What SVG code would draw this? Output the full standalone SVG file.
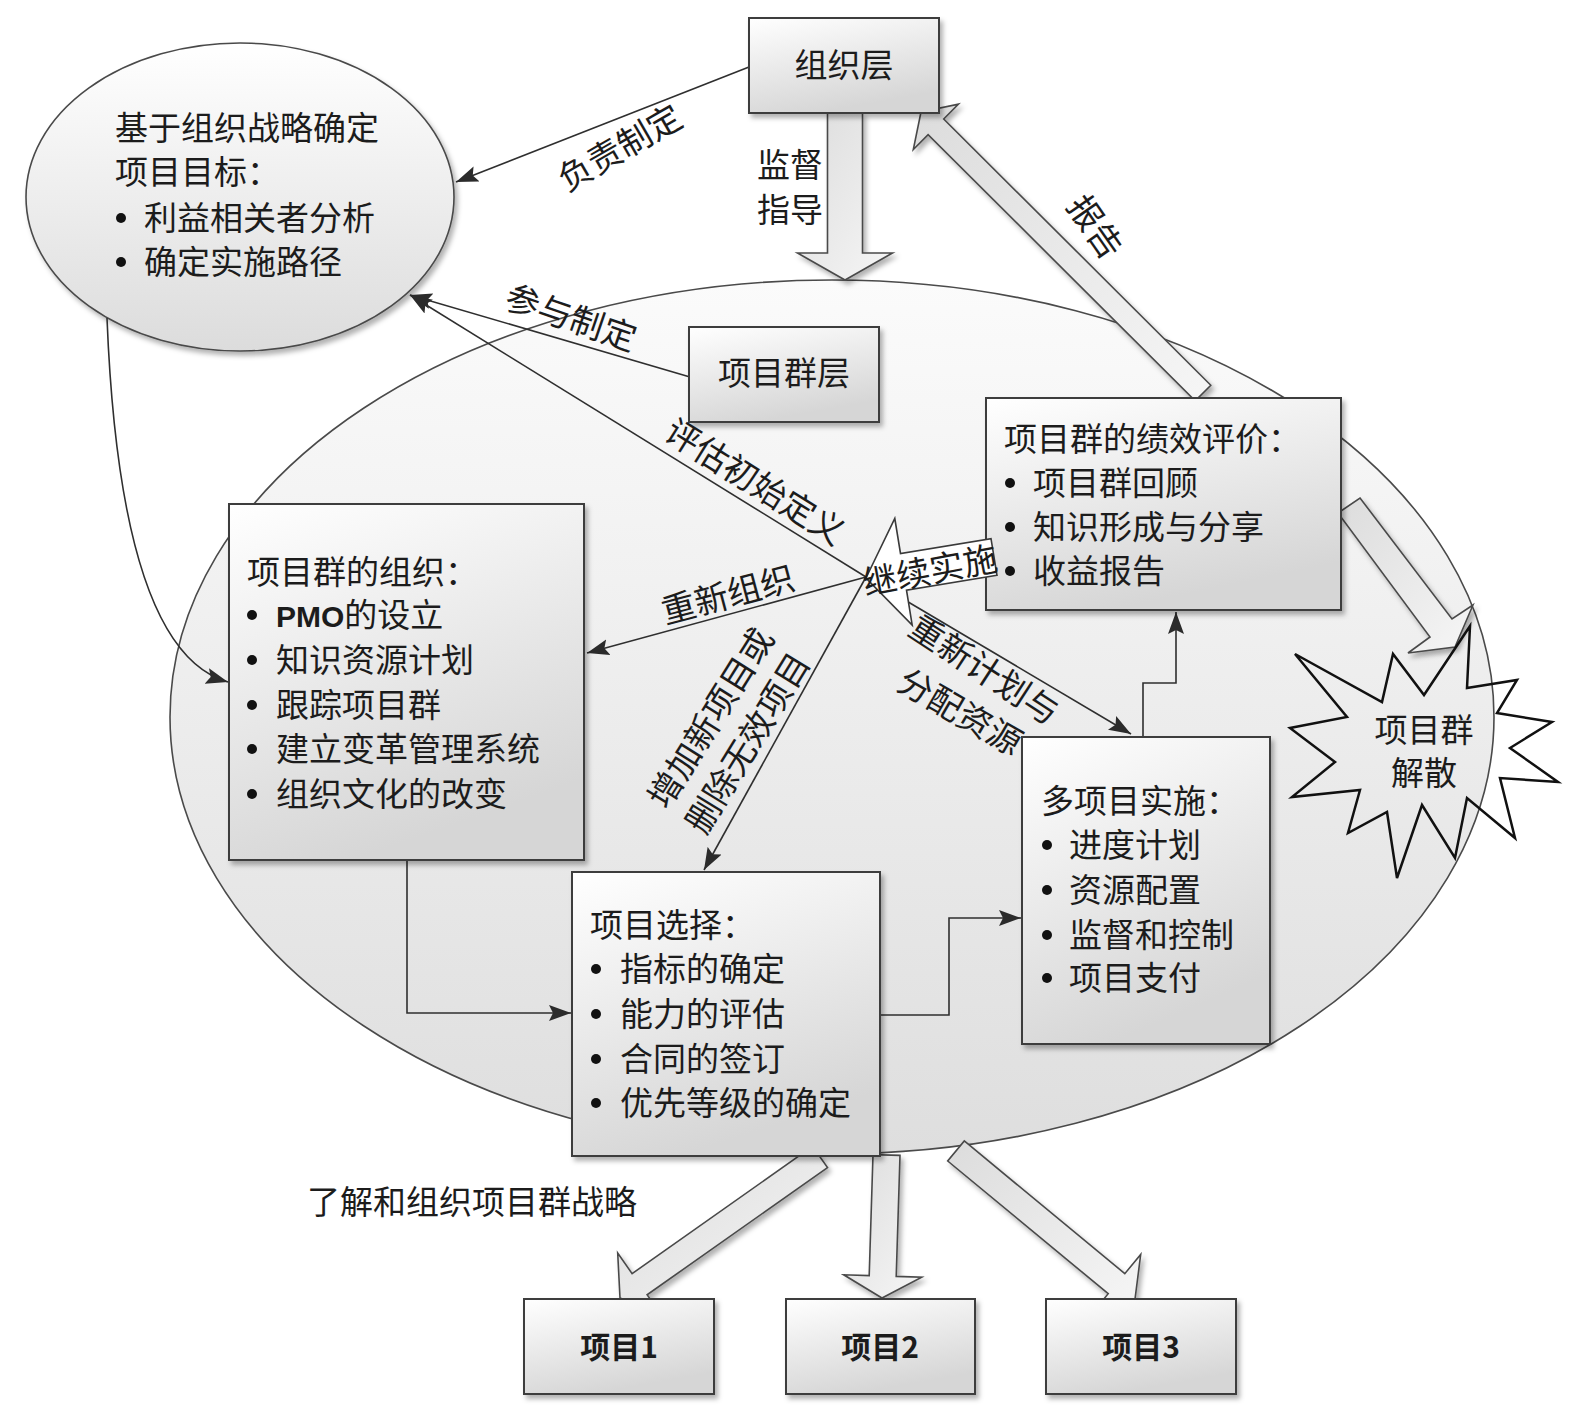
<svg xmlns="http://www.w3.org/2000/svg" width="1580" height="1408" viewBox="0 0 1580 1408">
<defs>
<linearGradient id="gBox" x1="0" y1="0" x2="0.35" y2="1">
<stop offset="0" stop-color="#ffffff"/>
<stop offset="1" stop-color="#d6d6d6"/>
</linearGradient>
<linearGradient id="gEll" x1="0" y1="0" x2="0" y2="1">
<stop offset="0" stop-color="#ffffff"/>
<stop offset="1" stop-color="#dcdcdc"/>
</linearGradient>
<linearGradient id="gBig" x1="0" y1="0" x2="0" y2="1">
<stop offset="0" stop-color="#fbfbfb"/>
<stop offset="1" stop-color="#dedede"/>
</linearGradient>
<linearGradient id="gArr" x1="0" y1="0" x2="1" y2="1">
<stop offset="0" stop-color="#dcdcdc"/>
<stop offset="1" stop-color="#f6f6f6"/>
</linearGradient>
<filter id="sh" x="-10%" y="-10%" width="130%" height="130%">
<feDropShadow dx="3" dy="4" stdDeviation="2.5" flood-color="#000" flood-opacity="0.3"/>
</filter>
<marker id="ah" markerWidth="24" markerHeight="18" refX="22" refY="9" orient="auto" markerUnits="userSpaceOnUse">
<path d="M0,1 L22,9 L0,17 L4,9 z" fill="#2b2b2b"/>
</marker>
</defs>
<style>
text{font-family:'Noto Sans CJK SC','Noto Sans',sans-serif;font-size:33px;fill:#1c1c1c}
.lbl{font-size:34px}
.box{fill:url(#gBox);stroke:#3c3c3c;stroke-width:2;filter:url(#sh)}
.ell{stroke:#4a4a4a;stroke-width:1.6}
.con{fill:none;stroke:#2f2f2f;stroke-width:1.6}
.conA{fill:none;stroke:#2f2f2f;stroke-width:1.6;marker-end:url(#ah)}
.blk{fill:url(#gArr);stroke:#4a4a4a;stroke-width:1.6;stroke-linejoin:miter;filter:url(#sh)}
.bul{fill:#111}
.bold{font-weight:bold;font-size:30px}
.pmo{font-family:'Liberation Sans',Arial,sans-serif;font-weight:bold;font-size:30px}
</style>
<rect width="1580" height="1408" fill="#ffffff"/>

<g id="program-ellipse">
<ellipse class="ell" cx="832" cy="717" rx="662" ry="437" fill="url(#gBig)"/>
</g>

<g id="goal-ellipse">
<ellipse class="ell" cx="240" cy="197" rx="214" ry="154" fill="url(#gEll)" filter="url(#sh)"/>
<text x="115" y="140">基于组织战略确定</text>
<text x="115" y="184">项目目标：</text>
<circle class="bul" cx="121" cy="218" r="5"/>
<text x="144" y="230">利益相关者分析</text>
<circle class="bul" cx="121" cy="262" r="5"/>
<text x="144" y="274">确定实施路径</text>
</g>

<g id="connectors">
<path class="conA" d="M749,67 L456,182"/>
<path class="conA" d="M690,377 L410,295"/>
<path class="conA" d="M866,577 L410,295"/>
<path class="conA" d="M866,577 L587,653"/>
<path class="conA" d="M866,577 L704,870"/>
<path class="conA" d="M866,577 L1131,734"/>
<path class="conA" d="M407,860 V1013 H571"/>
<path class="conA" d="M880,1015 H949 V918 H1021"/>
<path class="conA" d="M1143,737 V683 H1176 V612"/>
<path class="conA" d="M107,318 C115,520 150,660 228,682"/>
<polygon class="blk" points="827.5,113 827.5,253 797.5,253 845,280 892.5,253 862.5,253 862.5,113"/>
<polygon class="blk" points="1210.8,385.2 943.7,119 958.5,104.1 921,112 913.3,149.5 928.1,134.6 1195.2,400.8"/>
<polygon class="blk" points="1360,498 1452,619 1473,605 1455,647 1408,653 1430,637 1338,513"/>
<polygon class="blk" points="827.5,1167.6 647.1,1294.8 661.5,1315.3 620,1298 617.7,1253.1 632.1,1273.6 812.5,1146.4"/>
<polygon class="blk" points="900,1155.4 896.2,1276.4 921.7,1277.2 882,1298 843.7,1274.8 869.2,1275.6 873,1154.6"/>
<polygon class="blk" points="947.7,1161 1108.2,1293.7 1092.3,1313 1135,1299 1140.7,1254.4 1124.8,1273.7 964.3,1141"/>
</g>

<g id="org-layer">
<rect class="box" x="749" y="18" width="190" height="95"/>
<text x="844" y="77" text-anchor="middle">组织层</text>
</g>

<g id="program-layer">
<rect class="box" x="689" y="327" width="190" height="95"/>
<text x="784" y="385" text-anchor="middle">项目群层</text>
</g>

<g id="performance">
<rect class="box" x="986" y="398" width="355" height="212"/>
<text x="1004" y="451">项目群的绩效评价：</text>
<circle class="bul" cx="1010" cy="483" r="5"/>
<text x="1033" y="495">项目群回顾</text>
<circle class="bul" cx="1010" cy="527" r="5"/>
<text x="1033" y="539">知识形成与分享</text>
<circle class="bul" cx="1010" cy="571" r="5"/>
<text x="1033" y="583">收益报告</text>
</g>

<g id="organization">
<rect class="box" x="229" y="504" width="355" height="356"/>
<text x="247" y="584">项目群的组织：</text>
<circle class="bul" cx="252" cy="615" r="5"/>
<text x="276" y="627"><tspan class="pmo">PMO</tspan>的设立</text>
<circle class="bul" cx="252" cy="660" r="5"/>
<text x="276" y="672">知识资源计划</text>
<circle class="bul" cx="252" cy="705" r="5"/>
<text x="276" y="717">跟踪项目群</text>
<circle class="bul" cx="252" cy="749" r="5"/>
<text x="276" y="761">建立变革管理系统</text>
<circle class="bul" cx="252" cy="794" r="5"/>
<text x="276" y="806">组织文化的改变</text>
</g>

<g id="selection">
<rect class="box" x="572" y="872" width="308" height="284"/>
<text x="590" y="937">项目选择：</text>
<circle class="bul" cx="596" cy="969" r="5"/>
<text x="620" y="981">指标的确定</text>
<circle class="bul" cx="596" cy="1014" r="5"/>
<text x="620" y="1026">能力的评估</text>
<circle class="bul" cx="596" cy="1059" r="5"/>
<text x="620" y="1071">合同的签订</text>
<circle class="bul" cx="596" cy="1103" r="5"/>
<text x="620" y="1115">优先等级的确定</text>
</g>

<g id="implementation">
<rect class="box" x="1022" y="737" width="248" height="307"/>
<text x="1041" y="813">多项目实施：</text>
<circle class="bul" cx="1047" cy="845" r="5"/>
<text x="1069" y="857">进度计划</text>
<circle class="bul" cx="1047" cy="890" r="5"/>
<text x="1069" y="902">资源配置</text>
<circle class="bul" cx="1047" cy="935" r="5"/>
<text x="1069" y="947">监督和控制</text>
<circle class="bul" cx="1047" cy="978" r="5"/>
<text x="1069" y="990">项目支付</text>
</g>

<g id="continue">
<polygon points="997,575.3 906.5,590.1 912.2,625.1 866,578 894.8,518.5 900.5,553.5 991,538.7" fill="#ffffff" stroke="#3a3a3a" stroke-width="1.6" stroke-linejoin="miter"/>
<g transform="translate(930,571) rotate(-11)"><text class="lbl" x="0" y="12" text-anchor="middle">继续实施</text></g>
</g>

<g id="project1">
<rect class="box" x="524" y="1299" width="190" height="95"/>
<text class="bold" x="619" y="1358" text-anchor="middle">项目1</text>
</g>
<g id="project2">
<rect class="box" x="786" y="1299" width="189" height="95"/>
<text class="bold" x="880" y="1358" text-anchor="middle">项目2</text>
</g>
<g id="project3">
<rect class="box" x="1046" y="1299" width="190" height="95"/>
<text class="bold" x="1141" y="1358" text-anchor="middle">项目3</text>
</g>

<g id="dissolve">
<polygon points="1295,654 1382,702 1393,654 1424,695 1470,626 1467,688 1517,680 1497,713 1552,722 1510,748 1558,782 1500,778 1515,838 1467,798 1455,858 1422,805 1397,878 1387,812 1348,833 1360,790 1292,797 1335,762 1290,728 1347,717" fill="none" stroke="#111" stroke-width="2.5" stroke-linejoin="miter"/>
<text x="1424" y="742" text-anchor="middle">项目群</text>
<text x="1424" y="785" text-anchor="middle">解散</text>
</g>

<g id="labels">
<text x="757" y="177">监督</text>
<text x="757" y="222">指导</text>
<g transform="translate(620,148) rotate(-30)"><text class="lbl" x="0" y="12" text-anchor="middle">负责制定</text></g>
<g transform="translate(571,318) rotate(19)"><text class="lbl" x="0" y="12" text-anchor="middle">参与制定</text></g>
<g transform="translate(755,482) rotate(32)"><text class="lbl" x="0" y="12" text-anchor="middle">评估初始定义</text></g>
<g transform="translate(728,595) rotate(-15)"><text class="lbl" x="0" y="12" text-anchor="middle">重新组织</text></g>
<g transform="translate(711,718) rotate(-58)"><text class="lbl" x="0" y="12" text-anchor="middle">增加新项目或</text></g>
<g transform="translate(748,743) rotate(-58.5)"><text class="lbl" x="0" y="12" text-anchor="middle">删除无效项目</text></g>
<g transform="translate(984,670) rotate(33)"><text class="lbl" x="0" y="12" text-anchor="middle">重新计划与</text></g>
<g transform="translate(960,712) rotate(30)"><text class="lbl" x="0" y="12" text-anchor="middle">分配资源</text></g>
<g transform="translate(1095,227) rotate(55)"><text class="lbl" x="0" y="12" text-anchor="middle">报告</text></g>
<text x="307" y="1214">了解和组织项目群战略</text>
</g>
</svg>
